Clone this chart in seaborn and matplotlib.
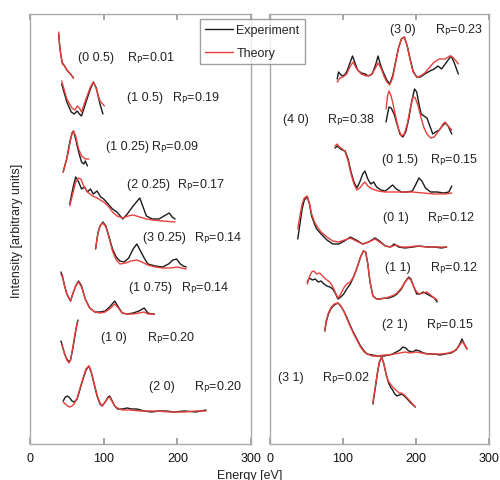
import matplotlib
matplotlib.use("Agg")
import matplotlib.pyplot as plt
import seaborn as sns
import pandas as pd

sns.set_theme(style="ticks")
plt.rcParams["font.family"] = ["Liberation Sans", "DejaVu Sans"]

# I-V curves, (energy eV, stacked intensity a.u.)
# --- left panel ---
b00_5_exp = [(39, 410), (40, 400), (42, 388), (44, 381), (47, 378), (50, 374), (55, 370), (59, 366)]
b00_5_th = [(39, 412), (40, 401), (42, 388), (44, 380), (47, 378), (50, 374), (55, 370), (59, 366)]

b10_5_exp = [(43, 360), (50, 342), (56, 332), (60, 330), (64, 333), (67, 330), (70, 328), (76, 342),
             (82, 355), (86, 362), (90, 356), (95, 340), (99, 330)]
b10_5_th = [(43, 363), (50, 345), (57, 336), (61, 334), (64, 338), (67, 336), (70, 332), (76, 345),
            (82, 357), (86, 362), (90, 355), (95, 343), (101, 338)]

b10_25_exp = [(45, 272), (50, 286), (54, 302), (57, 311), (59, 313), (62, 305), (66, 292), (70, 282),
              (73, 280), (75, 283), (78, 278)]
b10_25_th = [(45, 272), (50, 285), (54, 300), (57, 310), (59, 313), (62, 308), (66, 295), (70, 288),
             (75, 285), (80, 285)]

b20_25_exp = [(54, 240), (58, 255), (62, 267), (66, 262), (70, 255), (74, 257), (78, 252), (82, 255),
              (86, 250), (91, 253), (96, 247), (100, 245), (106, 240), (112, 235), (118, 232),
              (126, 225), (132, 230), (140, 238), (149, 246), (154, 236), (158, 228), (166, 225),
              (175, 225), (182, 228), (189, 231), (193, 227), (197, 225)]
b20_25_th = [(54, 238), (58, 250), (62, 262), (66, 266), (69, 265), (73, 258), (78, 252), (85, 248),
             (91, 246), (100, 242), (106, 238), (112, 232), (118, 228), (126, 226), (133, 228),
             (140, 229), (149, 227), (158, 225), (166, 224), (180, 223), (197, 222)]

b30_25_exp = [(89, 195), (92, 210), (95, 218), (99, 222), (103, 218), (107, 208), (112, 195),
              (117, 187), (122, 183), (128, 182), (134, 186), (140, 195), (145, 200), (150, 193),
              (155, 186), (160, 180), (170, 178), (180, 177), (188, 180), (194, 184), (199, 185),
              (204, 180), (208, 178), (212, 177)]
b30_25_th = [(89, 195), (92, 210), (95, 218), (99, 221), (103, 217), (107, 207), (112, 193),
             (117, 184), (122, 180), (130, 181), (137, 183), (145, 184), (152, 182), (160, 179),
             (170, 177), (180, 176), (190, 176), (200, 177), (206, 176), (212, 175)]

b10_75_exp = [(42, 172), (44, 168), (47, 158), (50, 150), (55, 143), (58, 150), (62, 158), (66, 163),
              (70, 158), (75, 145), (81, 136), (88, 132), (95, 132), (102, 133), (108, 137),
              (115, 143), (120, 137), (125, 131), (132, 130), (140, 131), (148, 133), (155, 136),
              (160, 131), (165, 130), (169, 130)]
b10_75_th = [(42, 170), (44, 167), (47, 158), (50, 150), (55, 143), (58, 150), (62, 158), (66, 162),
             (70, 157), (75, 145), (81, 136), (88, 132), (95, 131), (102, 132), (108, 135),
             (115, 140), (120, 136), (125, 131), (132, 130), (140, 130), (148, 131), (155, 132),
             (160, 130), (169, 130)]

b10_exp = [(42, 103), (44, 98), (47, 90), (50, 85), (53, 82), (55, 84), (58, 95), (61, 108),
           (63, 117), (65, 124)]
b10_th = [(43, 100), (47, 90), (50, 84), (53, 81), (55, 84), (58, 96), (61, 110), (65, 123)]

b20_exp = [(45, 43), (48, 47), (51, 48), (54, 46), (57, 43), (60, 42), (64, 45), (68, 55), (72, 65),
           (76, 74), (80, 78), (83, 72), (87, 60), (91, 48), (95, 40), (98, 38), (102, 42),
           (106, 47), (108, 48), (111, 44), (115, 38), (119, 35), (125, 35), (132, 36), (138, 35),
           (145, 35), (155, 33), (165, 32), (175, 33), (185, 33), (195, 32), (210, 33), (225, 32),
           (239, 34)]
b20_th = [(45, 42), (48, 40), (51, 38), (54, 37), (57, 38), (60, 40), (64, 46), (68, 56), (72, 66),
          (76, 75), (80, 78), (83, 73), (87, 61), (91, 49), (95, 41), (98, 38), (102, 42),
          (106, 46), (108, 47), (111, 43), (115, 38), (119, 36), (125, 34), (135, 34), (150, 33),
          (170, 33), (190, 32), (210, 32), (225, 33), (239, 33)]

# --- right panel ---
b30_exp = [(92, 365), (94, 372), (96, 370), (99, 368), (102, 369), (105, 372), (109, 380), (113, 388),
           (116, 382), (120, 374), (125, 371), (130, 370), (135, 368), (140, 370), (145, 380),
           (148, 388), (151, 380), (155, 372), (160, 364), (164, 360), (168, 368), (172, 382),
           (176, 396), (180, 405), (184, 407), (188, 398), (192, 385), (196, 373), (201, 367),
           (206, 367), (212, 370), (219, 373), (225, 375), (230, 378), (235, 375), (240, 380),
           (245, 385), (248, 388), (252, 382), (255, 376), (258, 370)]
b30_th = [(92, 362), (96, 366), (100, 367), (105, 370), (110, 378), (114, 382), (118, 376), (125, 370),
          (132, 368), (138, 369), (143, 374), (148, 381), (152, 376), (156, 368), (160, 362),
          (164, 359), (168, 366), (172, 381), (176, 396), (180, 405), (184, 407), (188, 398),
          (192, 384), (196, 372), (201, 367), (206, 368), (212, 371), (219, 377), (225, 382),
          (232, 385), (240, 385), (246, 388), (250, 387), (255, 383), (258, 380)]

b40_exp = [(159, 322), (161, 330), (163, 337), (166, 336), (170, 330), (174, 320), (178, 310),
           (182, 307), (186, 312), (190, 325), (194, 342), (198, 355), (201, 352), (204, 340),
           (207, 330), (211, 328), (215, 326), (219, 318), (223, 310), (227, 312), (232, 314),
           (236, 318), (240, 321), (244, 318), (249, 310)]
b40_th = [(159, 335), (161, 348), (163, 353), (165, 350), (168, 342), (172, 328), (176, 315),
          (180, 308), (184, 310), (188, 320), (192, 335), (196, 347), (199, 346), (203, 338),
          (207, 326), (211, 316), (215, 310), (220, 306), (225, 307), (232, 314), (237, 320),
          (240, 322), (244, 318), (249, 314)]

b01_5_exp = [(89, 296), (92, 298), (95, 296), (99, 294), (103, 293), (107, 285), (111, 272), (115, 262),
             (119, 256), (123, 262), (127, 270), (130, 273), (134, 265), (138, 260), (142, 262),
             (146, 257), (152, 254), (158, 253), (163, 256), (168, 259), (173, 255), (180, 252),
             (188, 252), (195, 253), (200, 260), (204, 266), (208, 263), (213, 256), (220, 252),
             (229, 252), (238, 251), (245, 252), (249, 258)]
b01_5_th = [(89, 298), (92, 300), (95, 297), (99, 295), (103, 292), (107, 283), (111, 270), (115, 260),
            (119, 254), (123, 256), (127, 260), (130, 262), (134, 258), (140, 255), (148, 253),
            (158, 252), (168, 252), (180, 252), (195, 252), (210, 251), (225, 250), (240, 250),
            (249, 251)]

b01_exp = [(38, 205), (41, 220), (44, 235), (47, 244), (51, 247), (54, 240), (57, 228), (61, 220),
           (64, 215), (70, 210), (78, 204), (86, 200), (94, 200), (102, 203), (110, 207), (118, 204),
           (127, 200), (135, 202), (144, 206), (150, 203), (158, 198), (165, 197), (170, 200),
           (176, 197), (185, 196), (196, 197), (205, 198), (215, 197), (225, 197), (235, 196),
           (242, 197)]
b01_th = [(38, 215), (41, 228), (44, 240), (47, 246), (51, 248), (54, 241), (57, 230), (61, 222),
          (64, 218), (70, 212), (78, 207), (86, 203), (94, 202), (102, 204), (110, 206), (118, 203),
          (127, 200), (135, 202), (144, 205), (150, 202), (158, 198), (165, 197), (172, 199),
          (180, 197), (190, 197), (200, 198), (215, 197), (230, 197), (242, 197)]

b11_exp = [(51, 162), (54, 166), (58, 164), (62, 165), (66, 162), (70, 163), (74, 160), (78, 158),
           (82, 157), (86, 155), (90, 150), (93, 145), (97, 147), (101, 150), (105, 155), (110, 160),
           (115, 168), (120, 178), (124, 187), (128, 193), (131, 192), (134, 180), (137, 162),
           (141, 148), (146, 145), (151, 145), (157, 146), (163, 146), (170, 148), (174, 150),
           (180, 155), (185, 162), (190, 167), (193, 165), (197, 157), (201, 150), (205, 150),
           (210, 152), (215, 150), (220, 148), (225, 146), (229, 142)]
b11_th = [(51, 160), (54, 167), (57, 172), (60, 173), (64, 170), (68, 171), (72, 168), (76, 165),
          (80, 163), (84, 160), (88, 154), (93, 146), (97, 150), (101, 156), (105, 160), (110, 162),
          (115, 168), (120, 178), (124, 187), (128, 193), (131, 192), (134, 180), (137, 162),
          (141, 148), (146, 145), (151, 145), (157, 146), (163, 147), (170, 149), (174, 151),
          (180, 156), (185, 162), (190, 166), (193, 164), (197, 157), (201, 152), (205, 150),
          (210, 151), (215, 152), (220, 149), (225, 146), (229, 144)]

b21_exp = [(75, 113), (77, 122), (80, 130), (84, 136), (88, 139), (93, 141), (97, 138), (101, 133),
           (105, 127), (109, 120), (114, 112), (119, 105), (124, 98), (129, 93), (133, 90), (140, 89),
           (148, 88), (156, 88), (163, 89), (168, 90), (173, 92), (178, 94), (182, 97), (186, 96),
           (190, 93), (195, 92), (200, 94), (205, 93), (210, 91), (218, 90), (225, 90), (233, 89),
           (240, 90), (248, 91), (255, 94), (260, 100), (263, 105), (266, 100), (270, 95)]
b21_th = [(75, 113), (77, 123), (80, 131), (84, 137), (88, 140), (93, 141), (97, 138), (101, 133),
          (105, 126), (109, 119), (114, 111), (119, 104), (124, 97), (129, 92), (133, 90), (140, 88),
          (148, 88), (156, 89), (163, 89), (170, 90), (178, 91), (185, 92), (192, 91), (200, 92),
          (208, 91), (215, 90), (225, 90), (235, 90), (245, 91), (252, 93), (257, 96), (262, 101),
          (265, 102), (268, 97), (270, 95)]

b31_exp = [(141, 40), (144, 55), (147, 70), (150, 82), (153, 87), (156, 80), (159, 70), (162, 62),
           (165, 57), (168, 54), (171, 50), (174, 48), (177, 49), (180, 50), (184, 48), (188, 45),
           (193, 41), (199, 37)]
b31_th = [(141, 42), (144, 56), (147, 71), (150, 83), (153, 87), (156, 80), (159, 70), (162, 63),
          (165, 60), (168, 57), (171, 55), (174, 53), (177, 51), (180, 51), (184, 49), (188, 46),
          (193, 42), (199, 37)]

beams_left = ["(0 0.5)", "(1 0.5)", "(1 0.25)", "(2 0.25)", "(3 0.25)", "(1 0.75)", "(1 0)", "(2 0)"]
rp_left = [0.01, 0.19, 0.09, 0.17, 0.14, 0.14, 0.20, 0.20]
beams_right = ["(3 0)", "(4 0)", "(0 1.5)", "(0 1)", "(1 1)", "(2 1)", "(3 1)"]
rp_right = [0.23, 0.38, 0.15, 0.12, 0.12, 0.15, 0.02]

curves_left = [(b00_5_exp, b00_5_th), (b10_5_exp, b10_5_th), (b10_25_exp, b10_25_th),
               (b20_25_exp, b20_25_th), (b30_25_exp, b30_25_th), (b10_75_exp, b10_75_th),
               (b10_exp, b10_th), (b20_exp, b20_th)]
curves_right = [(b30_exp, b30_th), (b40_exp, b40_th), (b01_5_exp, b01_5_th), (b01_exp, b01_th),
                (b11_exp, b11_th), (b21_exp, b21_th), (b31_exp, b31_th)]

# label placement (name x, R_P x, y) in data coords
lab_left = [(65, 131, 387), (132, 193, 347), (103, 164, 298), (132, 200, 260),
            (154, 223, 207), (134, 205, 157), (97, 159, 107), (162, 222, 58)]
lab_right = [(164, 226, 415), (18, 78, 325), (153, 219, 285), (155, 215, 227),
             (158, 219, 177), (153, 214, 120), (11, 71, 67)]


def to_frame(beams, curves):
    rows = []
    for beam, (exp, th) in zip(beams, curves):
        for src, pts in (("Experiment", exp), ("Theory", th)):
            for e, i in pts:
                rows.append({"beam": beam, "source": src, "energy": e, "intensity": i})
    return pd.DataFrame(rows)


palette = {"Experiment": "#1a1a1a", "Theory": "#e8403c"}

fig = plt.figure(figsize=(5, 4.81), dpi=100)
ax1 = fig.add_axes([30 / 500, 1 - 445 / 481, 221 / 500, 430 / 481])
ax2 = fig.add_axes([270 / 500, 1 - 445 / 481, 219 / 500, 430 / 481])

for ax, beams, curves, rps, labs in ((ax1, beams_left, curves_left, rp_left, lab_left),
                                     (ax2, beams_right, curves_right, rp_right, lab_right)):
    df = to_frame(beams, curves)
    sns.lineplot(data=df, x="energy", y="intensity", hue="source", units="beam",
                 estimator=None, sort=False, palette=palette, linewidth=1.0, ax=ax)
    for beam, rp, (nx, rx, y) in zip(beams, rps, labs):
        ax.text(nx, y, beam, fontsize=9, va="center", ha="left", color="#222222")
        ax.text(rx, y, r"R$_\mathrm{P}$=" + f"{rp:.2f}", fontsize=9, va="center",
                ha="left", color="#222222")
    ax.set_xlim(0, 300)
    ax.set_ylim(0, 430)
    ax.set_xticks([0, 100, 200, 300])
    ax.set_yticks([])
    ax.set_xlabel("")
    ax.set_ylabel("")
    ax.tick_params(axis="x", direction="in", top=True, length=4, color="#999999",
                   labelsize=9, labelcolor="#111111", pad=6)
    for s in ax.spines.values():
        s.set_color("#aaaaaa")
        s.set_linewidth(1.0)

handles, labels = ax1.get_legend_handles_labels()
ax1.get_legend().remove()
ax2.get_legend().remove()
leg = fig.legend(handles, labels, loc="upper left", bbox_to_anchor=(200 / 500, 1 - 20 / 481),
                 frameon=True, fancybox=False, fontsize=9, handlelength=2.2,
                 handletextpad=0.3, labelspacing=0.9, borderpad=0.4, borderaxespad=0)
leg.get_frame().set_edgecolor("#888888")
leg.get_frame().set_linewidth(1.0)

fig.text(17 / 500, 0.52, "Intensity [arbitrary units]", rotation=90, fontsize=9,
         ha="center", va="center", color="#222222")
fig.text(0.5, 5 / 481, "Energy [eV]", fontsize=9, ha="center", va="center", color="#222222")

fig.savefig("out.png", dpi=100)
